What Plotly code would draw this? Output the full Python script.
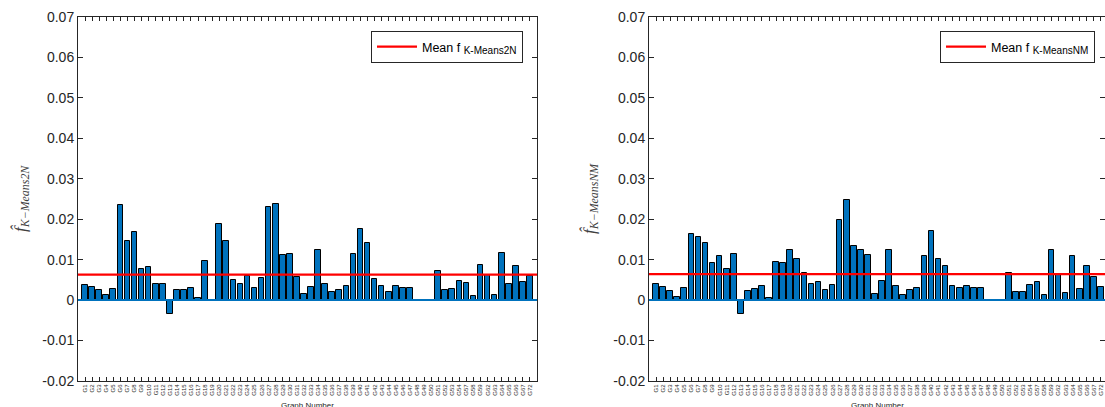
import numpy as np
import plotly.graph_objects as go

# ---------------- data ----------------
graph_labels = [f"G{i}" for i in range(1, 55)] + ["G57", "G58", "G59", "G62", "G63",
                                                  "G64", "G65", "G66", "G67", "G72"]

f_kmeans2n = [0.0037, 0.0032, 0.0026, 0.0012, 0.0028, 0.0236, 0.0146, 0.0168, 0.0077, 0.0083,
              0.0039, 0.0039, -0.0035, 0.0024, 0.0024, 0.0031, 0.0005, 0.0096, 0.0, 0.0189,
              0.0147, 0.0049, 0.0039, 0.0059, 0.0031, 0.0054, 0.0231, 0.0238, 0.0112, 0.0113,
              0.0058, 0.0016, 0.0032, 0.0124, 0.0039, 0.0019, 0.0024, 0.0035, 0.0113, 0.0175,
              0.0140, 0.0052, 0.0034, 0.0021, 0.0036, 0.0031, 0.0031, 0.0, 0.0, 0.0,
              0.0072, 0.0024, 0.0027, 0.0048, 0.0043, 0.0010, 0.0088, 0.0062, 0.0013, 0.0116,
              0.0039, 0.0085, 0.0044, 0.0060]

f_kmeansnm = [0.0040, 0.0032, 0.0022, 0.0007, 0.0029, 0.0164, 0.0156, 0.0140, 0.0091, 0.0109,
              0.0076, 0.0113, -0.0035, 0.0023, 0.0027, 0.0036, 0.0005, 0.0095, 0.0092, 0.0123,
              0.0102, 0.0068, 0.0039, 0.0046, 0.0024, 0.0037, 0.0199, 0.0247, 0.0133, 0.0123,
              0.0111, 0.0015, 0.0047, 0.0124, 0.0036, 0.0013, 0.0026, 0.0029, 0.0109, 0.0171,
              0.0102, 0.0084, 0.0034, 0.0031, 0.0036, 0.0029, 0.0029, 0.0, 0.0, 0.0,
              0.0066, 0.0021, 0.0021, 0.0038, 0.0044, 0.0012, 0.0124, 0.0062, 0.0017, 0.0109,
              0.0028, 0.0085, 0.0057, 0.0032]

y_ticks = [-0.02, -0.01, 0, 0.01, 0.02, 0.03, 0.04, 0.05, 0.06, 0.07]
y_tick_text = [f"{v:g}" for v in y_ticks]

# ---------------- styling ----------------
W, H = 1105, 407
M_T, M_B = 17, H - 381
PLOT_H = H - M_T - M_B
BAR_COLOR = "#0072BD"
AX_COLOR = "#262626"
x_pos = list(range(1, len(graph_labels) + 1))


def px_x(v):
    return v / W


def px_y(v):
    return (H - M_B - v) / PLOT_H


fig = go.Figure()

panels = [
    dict(vals=f_kmeans2n, sub="K-Means2N", ysub="K\u2212Means2N", xa="x", ya="y",
         legend="legend", dom=[px_x(78), px_x(537)], xr=[0, 65], leg_right=523,
         ylab_x=21, gn_x=307.5),
    dict(vals=f_kmeansnm, sub="K-MeansNM", ysub="K\u2212MeansNM", xa="x2", ya="y2",
         legend="legend2", dom=[px_x(649), 1.0], xr=[0, 64.58], leg_right=1095,
         ylab_x=590, gn_x=877),
]

for p in panels:
    fig.add_trace(go.Bar(
        x=x_pos, y=p["vals"], xaxis=p["xa"], yaxis=p["ya"], width=0.8,
        marker=dict(color=BAR_COLOR, line=dict(color="black", width=1)),
        showlegend=False, hoverinfo="skip"))
    m = float(np.mean(p["vals"]))
    fig.add_trace(go.Scatter(
        x=p["xr"], y=[m, m], mode="lines", xaxis=p["xa"], yaxis=p["ya"],
        line=dict(color="#FF0000", width=2.2), legend=p["legend"],
        name=f"Mean f <sub><span style='font-size:10px'>{p['sub']}</span></sub>",
        showlegend=True, hoverinfo="skip"))
    # bar baseline drawn above the bars (as in the original)
    fig.add_shape(type="line", xref=f"{p['xa']} domain", yref=p["ya"], x0=0, x1=1, y0=0, y1=0,
                  line=dict(color=BAR_COLOR, width=2), layer="above")


def xaxis_cfg(p):
    return dict(domain=p["dom"], range=p["xr"], anchor=p["ya"],
                tickmode="array", tickvals=x_pos, ticktext=graph_labels,
                tickangle=-90, tickfont=dict(family="Liberation Sans, Arial", size=6, color=AX_COLOR),
                ticks="inside", ticklen=4, tickcolor=AX_COLOR, tickwidth=1,
                showline=True, linecolor=AX_COLOR, linewidth=1, mirror="ticks",
                showgrid=False, zeroline=False, fixedrange=True)


def yaxis_cfg(p):
    return dict(domain=[0, 1], range=[-0.02, 0.07], anchor=p["xa"],
                tickmode="array", tickvals=y_ticks, ticktext=y_tick_text,
                tickfont=dict(family="Liberation Sans, Arial", size=14, color=AX_COLOR),
                ticks="inside", ticklen=5, tickcolor=AX_COLOR, tickwidth=1,
                showline=True, linecolor=AX_COLOR, linewidth=1, mirror="ticks",
                showgrid=False, zeroline=False, fixedrange=True)


def legend_cfg(p):
    return dict(x=px_x(p["leg_right"]), y=px_y(31), xanchor="right", yanchor="top",
                bgcolor="white", bordercolor=AX_COLOR, borderwidth=1, itemwidth=40,
                font=dict(family="Liberation Sans, Arial", size=12.5, color="black"))


fig.update_layout(
    width=W, height=H,
    margin=dict(l=0, r=0, t=M_T, b=M_B, autoexpand=False),
    plot_bgcolor="white", paper_bgcolor="white",
    xaxis=xaxis_cfg(panels[0]), yaxis=yaxis_cfg(panels[0]),
    xaxis2=xaxis_cfg(panels[1]), yaxis2=yaxis_cfg(panels[1]),
    legend=legend_cfg(panels[0]), legend2=legend_cfg(panels[1]),
    bargap=0,
)

for p in panels:
    fig.add_annotation(
        xref="paper", yref="paper", x=px_x(p["ylab_x"]), y=0.5, xanchor="center", yanchor="middle",
        text=f"<i>f\u0302</i><sub><i>{p['ysub']}</i></sub>", textangle=-90, showarrow=False,
        font=dict(family="Liberation Serif, Times New Roman", size=17, color="#404040"))
    fig.add_annotation(
        xref="paper", yref="paper", x=px_x(p["gn_x"]), y=px_y(399),
        xanchor="center", yanchor="top", text="Graph Number", showarrow=False,
        font=dict(family="Liberation Sans, Arial", size=8, color=AX_COLOR))

# remove the default page margin so the figure fills the window exactly
fig.write_html("out.html", config={"displayModeBar": False},
               post_script="document.body.style.margin='0px';document.body.style.overflow='hidden';")
